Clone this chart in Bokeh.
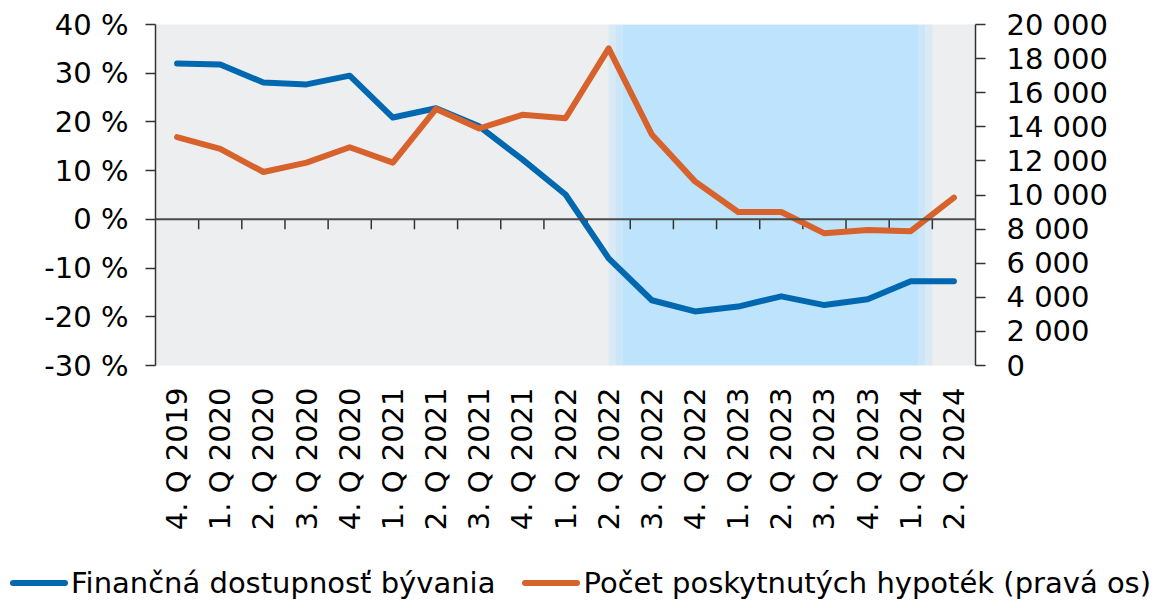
import math
import numpy as np
from bokeh.plotting import figure
from bokeh.layouts import column
from bokeh.models import (LinearAxis, Range1d, FixedTicker, PrintfTickFormatter,
                          CustomJSTickFormatter, Span, BoxAnnotation, Div)
from bokeh.embed import file_html
from bokeh.resources import INLINE

categories = ["4. Q 2019", "1. Q 2020", "2. Q 2020", "3. Q 2020", "4. Q 2020",
              "1. Q 2021", "2. Q 2021", "3. Q 2021", "4. Q 2021", "1. Q 2022",
              "2. Q 2022", "3. Q 2022", "4. Q 2022", "1. Q 2023", "2. Q 2023",
              "3. Q 2023", "4. Q 2023", "1. Q 2024", "2. Q 2024"]
affordability = [32.0, 31.8, 28.1, 27.7, 29.5, 20.9, 22.8, 19.1, 12.3, 5.1,
                 -8.0, -16.6, -18.9, -17.9, -15.8, -17.6, -16.4, -12.7, -12.7]
mortgages = [13400, 12700, 11350, 11900, 12800, 11900, 15050, 13900, 14700, 14500,
             18600, 13550, 10800, 9000, 9000, 7750, 7950, 7880, 9850]
left_ticks = [-30, -20, -10, 0, 10, 20, 30, 40]
right_ticks = [0, 2000, 4000, 6000, 8000, 10000, 12000, 14000, 16000, 18000, 20000]
shade_start = "2. Q 2022"
shade_end = "1. Q 2024"
label_blue = "Finančná dostupnosť bývania"
label_orange = "Počet poskytnutých hypoték (pravá os)"

FONT = "DejaVu Sans"
FS = "29px"
BLUE = "#0068B0"
ORANGE = "#D8622B"

n = len(categories)
xs = np.arange(n)
frame_h = 341
ymin, ymax = left_ticks[0], left_ticks[-1]

p_main = figure(width=1158, height=566, output_backend="svg", toolbar_location=None,
                x_range=Range1d(-0.5, n - 0.5), y_range=Range1d(ymin, ymax),
                min_border_left=155, min_border_right=183, min_border_top=24,
                min_border_bottom=201, background_fill_color="#EDEEF0",
                border_fill_color="white", outline_line_color=None)
p_main.xgrid.visible = False
p_main.ygrid.visible = False
p_main.extra_y_ranges = {"right": Range1d(right_ticks[0], right_ticks[-1])}

# shaded region with soft edges
s0 = categories.index(shade_start)
s1 = categories.index(shade_end)
for l, r, c in [(s0, s0 + 0.16, "#DAEAF5"), (s0 + 0.16, s0 + 0.32, "#CBE6F9"),
                (s0 + 0.32, s1 + 0.18, "#BDE4FC"), (s1 + 0.18, s1 + 0.34, "#CBE6F9"),
                (s1 + 0.34, s1 + 0.5, "#DAEAF5")]:
    p_main.add_layout(BoxAnnotation(left=l, right=r, fill_color=c, fill_alpha=1,
                                    line_color=None, level="underlay"))

# zero line with category boundary ticks
p_main.add_layout(Span(location=0, dimension="width", line_color="#4A4A4A", line_width=2))
bounds = np.arange(1, n) - 0.5
tick_len = 10 * (ymax - ymin) / frame_h
p_main.segment(x0=bounds, y0=np.zeros(len(bounds)), x1=bounds, y1=np.full(len(bounds), -tick_len),
               line_color="#333333", line_width=1.5)

p_main.line(xs, affordability, line_color=BLUE, line_width=6, line_cap="round", line_join="round")
p_main.line(xs, mortgages, y_range_name="right", line_color=ORANGE, line_width=6,
            line_cap="round", line_join="round")

# bottom axis
xa = p_main.xaxis[0]
xa.ticker = FixedTicker(ticks=list(xs))
xa.major_label_overrides = {int(i): c for i, c in enumerate(categories)}
xa.major_label_orientation = math.pi / 2
xa.axis_line_color = None
xa.major_tick_line_color = None
xa.minor_tick_line_color = None
xa.major_label_standoff = 16
xa.major_label_text_font = FONT
xa.major_label_text_font_size = FS
xa.major_label_text_color = "black"

# left axis
ya = p_main.yaxis[0]
ya.ticker = FixedTicker(ticks=left_ticks)
ya.formatter = PrintfTickFormatter(format="%d %%")
ya.axis_line_color = "#333333"
ya.axis_line_width = 1.5
ya.major_tick_line_color = "#333333"
ya.major_tick_line_width = 1.5
ya.major_tick_in = 0
ya.major_tick_out = 10
ya.minor_tick_line_color = None
ya.major_label_standoff = 17
ya.major_label_text_font = FONT
ya.major_label_text_font_size = FS
ya.major_label_text_color = "black"

# right axis
ra = LinearAxis(y_range_name="right", ticker=FixedTicker(ticks=right_ticks),
                formatter=CustomJSTickFormatter(code=r"return tick.toString().replace(/\B(?=(\d{3})+(?!\d))/g, ' ');"))
ra.axis_line_color = "#333333"
ra.axis_line_width = 1.5
ra.major_tick_line_color = "#333333"
ra.major_tick_line_width = 1.5
ra.major_tick_in = 0
ra.major_tick_out = 10
ra.minor_tick_line_color = None
ra.major_label_standoff = 21
ra.major_label_text_font = FONT
ra.major_label_text_font_size = FS
ra.major_label_text_color = "black"
p_main.add_layout(ra, "right")

# legend strip (HTML, real text)
def swatch(color, left):
    return (f'<span style="display:inline-block;width:58px;height:6px;border-radius:3px;'
            f'background:{color};margin-left:{left}px;margin-right:3px;"></span>')

legend_html = (
    f'<div style="display:flex;align-items:center;white-space:nowrap;'
    f'font-family:\'{FONT}\';font-size:{FS};color:black;line-height:34px;">'
    f'{swatch(BLUE, 10)}<span>{label_blue}</span>'
    f'{swatch(ORANGE, 27)}<span>{label_orange}</span></div>'
)
legend_div = Div(text=legend_html, width=1158, height=34, margin=(0, 0, 0, 0))

p = column(p_main, legend_div, spacing=0)

open("out.html", "w").write(file_html(p, INLINE))
